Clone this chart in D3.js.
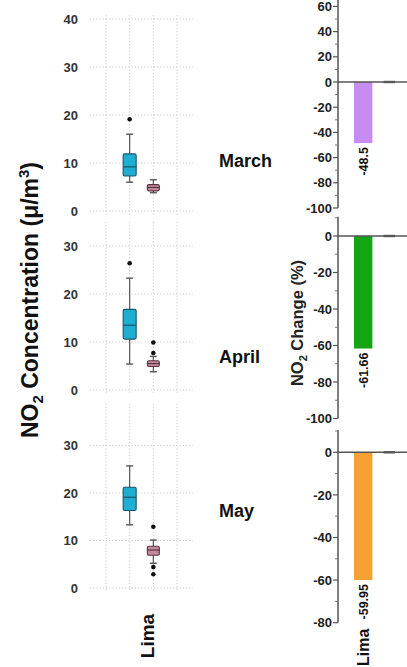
<!DOCTYPE html>
<html>
<head>
<meta charset="utf-8">
<script src="https://cdn.jsdelivr.net/npm/d3@7"></script>
<style>
  body { margin: 0; background: #fff; }
  svg { display: block; font-family: "Liberation Sans", Arial, sans-serif; }
</style>
</head>
<body>
<div id="viz"></div>
<script>
// data
var months = ["March", "April", "May"]
var series = ["Baseline", "2020"]          // blue box, pink box
var concTicks = [[0, 10, 20, 30, 40], [0, 10, 20, 30], [0, 10, 20, 30]]

// box stats: low whisker, q1, median, q3, high whisker, outliers
var marchBoxes = [
  { low: 6.0, q1: 7.3, med: 9.2, q3: 11.9, high: 16.0, out: [19.1] },
  { low: 3.8, q1: 4.2, med: 4.9, q3: 5.5, high: 6.5, out: [] }
]
var aprilBoxes = [
  { low: 5.4, q1: 10.6, med: 13.5, q3: 16.8, high: 23.3, out: [26.4] },
  { low: 3.8, q1: 4.9, med: 5.5, q3: 6.1, high: 7.0, out: [7.7, 9.9] }
]
var mayBoxes = [
  { low: 13.3, q1: 16.3, med: 19.1, q3: 21.2, high: 25.7, out: [] },
  { low: 5.2, q1: 6.9, med: 8.0, q3: 8.8, high: 10.1, out: [12.9, 4.4, 2.9] }
]
var allBoxes = [marchBoxes, aprilBoxes, mayBoxes]

var changeCities = ["Lima", "other"]
var limaChange = [-48.5, -61.66, -59.95]
var otherChange = [0, 0, 0]
var changeDomains = [[-100, 60], [-100, 10], [-80, 10]]
var barColors = ["#c78cf2", "#14a514", "#f6a233"]

// general variables
var w = 407
var h = 667
var font = "'Liberation Sans', Arial, sans-serif"

var svg = d3.select("#viz")
  .append("svg")
  .attr("width", w)
  .attr("height", h)

// ---------- left: box plots ----------
var leftPanels = [
  { y0: 211, ppu: 4.8, top: 40.8 },
  { y0: 390, ppu: 4.8, top: 35 },
  { y0: 588, ppu: 4.75, top: 38.8 }
]
var boxFill = ["#1eaed2", "#c48a9c"]
var boxStroke = ["#17566a", "#5a3242"]
var boxW = [13, 12]

// x: 4 grid slots, boxes sit on slots 1 and 2
var x = d3.scaleLinear().domain([0, 3]).range([106, 177])

leftPanels.forEach((p, i) => {
  var y = d3.scaleLinear().domain([0, p.top]).range([p.y0, p.y0 - p.top * p.ppu])
  var g = svg.append("g")

  // dotted grid
  g.selectAll(".vgrid").data(d3.range(4))
    .enter()
    .append("line")
    .attr("x1", d => x(d))
    .attr("x2", d => x(d))
    .attr("y1", y(p.top))
    .attr("y2", y(0) + 4)
    .attr("stroke", "#c8c8c8")
    .attr("stroke-dasharray", "1.2,2")
  g.selectAll(".hgrid").data(concTicks[i])
    .enter()
    .append("line")
    .attr("x1", 90)
    .attr("x2", 193)
    .attr("y1", d => y(d))
    .attr("y2", d => y(d))
    .attr("stroke", "#c8c8c8")
    .attr("stroke-dasharray", "1.2,2")

  g.selectAll(".tick").data(concTicks[i])
    .enter()
    .append("text")
    .attr("x", 78)
    .attr("y", d => y(d))
    .attr("dy", "0.36em")
    .attr("text-anchor", "end")
    .attr("font-size", 13)
    .attr("font-weight", "bold")
    .attr("fill", "#333")
    .text(d => d)

  allBoxes[i].forEach((b, j) => {
    var cx = x(j + 1)
    var bw = boxW[j]
    g.append("line")
      .attr("x1", cx).attr("x2", cx)
      .attr("y1", y(b.high)).attr("y2", y(b.low))
      .attr("stroke", "#555").attr("stroke-width", 1.2)
    ;[b.low, b.high].forEach(v => {
      g.append("line")
        .attr("x1", cx - 3.5).attr("x2", cx + 3.5)
        .attr("y1", y(v)).attr("y2", y(v))
        .attr("stroke", "#555").attr("stroke-width", 1.4)
    })
    g.append("rect")
      .attr("x", cx - bw / 2)
      .attr("y", y(b.q3))
      .attr("width", bw)
      .attr("height", y(b.q1) - y(b.q3))
      .attr("rx", 1.5)
      .attr("fill", boxFill[j])
      .attr("stroke", boxStroke[j])
      .attr("stroke-width", 1.1)
    g.append("line")
      .attr("x1", cx - bw / 2).attr("x2", cx + bw / 2)
      .attr("y1", y(b.med)).attr("y2", y(b.med))
      .attr("stroke", boxStroke[j]).attr("stroke-width", 1.2)
    g.selectAll(".out" + j).data(b.out)
      .enter()
      .append("circle")
      .attr("cx", cx)
      .attr("cy", d => y(d))
      .attr("r", 2.3)
      .attr("fill", "#111")
  })
})

// big y label
svg.append("text")
  .attr("transform", "translate(38,300) rotate(-90)")
  .attr("text-anchor", "middle")
  .attr("font-size", 23)
  .attr("font-weight", "bold")
  .attr("fill", "#111")
  .call(t => {
    t.append("tspan").text("NO")
    t.append("tspan").attr("font-size", 15).attr("dy", 5).text("2")
    t.append("tspan").attr("dy", -5).text(" Concentration (μ/m")
    t.append("tspan").attr("font-size", 15).attr("dy", -9).text("3")
    t.append("tspan").attr("dy", 9).text(")")
  })

svg.append("text")
  .attr("transform", "translate(154,636) rotate(-90)")
  .attr("text-anchor", "middle")
  .attr("font-size", 19)
  .attr("font-weight", "bold")
  .attr("fill", "#111")
  .text("Lima")

// month labels
var monthY = [161, 357, 511]
svg.selectAll(".month").data(months)
  .enter()
  .append("text")
  .attr("x", 219)
  .attr("y", (d, i) => monthY[i])
  .attr("dy", "0.36em")
  .attr("font-size", 18)
  .attr("font-weight", "bold")
  .attr("fill", "#111")
  .text(d => d)

// ---------- right: change bars ----------
var rightPanels = [
  { y0: 82, ppu: 1.26, top: 65 },
  { y0: 236, ppu: 1.825, top: 10.5 },
  { y0: 452.3, ppu: 2.13, top: 10.5 }
]
var axisX = 338
var xb = d3.scaleBand().domain(changeCities).range([338, 415]).paddingInner(0.31).paddingOuter(0.6)

rightPanels.forEach((p, i) => {
  var dom = changeDomains[i]
  var y = d3.scaleLinear().domain([dom[0], p.top]).range([p.y0 - (dom[0]) * p.ppu, p.y0 - p.top * p.ppu])
  var g = svg.append("g")

  var major = d3.range(dom[0], dom[1] + 1, 20)
  var minor = d3.range(dom[0] + 10, p.top, 20)

  // bar
  g.append("rect")
    .attr("x", xb("Lima"))
    .attr("y", y(0))
    .attr("width", xb.bandwidth())
    .attr("height", y(limaChange[i]) - y(0))
    .attr("fill", barColors[i])

  // zero line
  g.append("line")
    .attr("x1", axisX).attr("x2", w)
    .attr("y1", y(0)).attr("y2", y(0))
    .attr("stroke", "#555").attr("stroke-width", 1.5)

  // near-zero second bar
  g.append("rect")
    .attr("x", xb("other") + 3)
    .attr("y", y(Math.max(otherChange[i], 0)) - 1.2)
    .attr("width", xb.bandwidth() - 7)
    .attr("height", Math.abs(y(otherChange[i]) - y(0)) + 2.4)
    .attr("fill", "#555")

  // axis line + ticks
  g.append("line")
    .attr("x1", axisX).attr("x2", axisX)
    .attr("y1", y(p.top)).attr("y2", y(dom[0]))
    .attr("stroke", "#555").attr("stroke-width", 1.5)
  g.selectAll(".maj").data(major)
    .enter()
    .append("line")
    .attr("x1", axisX - 5).attr("x2", axisX)
    .attr("y1", d => y(d)).attr("y2", d => y(d))
    .attr("stroke", "#555").attr("stroke-width", 1.2)
  g.selectAll(".min").data(minor)
    .enter()
    .append("line")
    .attr("x1", axisX - 3).attr("x2", axisX)
    .attr("y1", d => y(d)).attr("y2", d => y(d))
    .attr("stroke", "#777").attr("stroke-width", 1)
  g.selectAll(".lab").data(major)
    .enter()
    .append("text")
    .attr("x", axisX - 6)
    .attr("y", d => y(d))
    .attr("dy", "0.36em")
    .attr("text-anchor", "end")
    .attr("font-size", 13)
    .attr("font-weight", "bold")
    .attr("fill", "#222")
    .text(d => d)

  // value label
  g.append("text")
    .attr("transform", "translate(" + (xb("Lima") + xb.bandwidth() / 2 + 4.5) + "," + (y(limaChange[i]) + 4) + ") rotate(-90)")
    .attr("text-anchor", "end")
    .attr("font-size", 12.5)
    .attr("font-weight", "bold")
    .attr("fill", "#111")
    .text(limaChange[i])
})

svg.append("text")
  .attr("transform", "translate(303,323) rotate(-90)")
  .attr("text-anchor", "middle")
  .attr("font-size", 16.5)
  .attr("font-weight", "bold")
  .attr("fill", "#222")
  .call(t => {
    t.append("tspan").text("NO")
    t.append("tspan").attr("font-size", 11).attr("dy", 4).text("2")
    t.append("tspan").attr("dy", -4).text(" Change (%)")
  })

svg.append("text")
  .attr("transform", "translate(" + (xb("Lima") + xb.bandwidth() / 2 + 6) + ",666) rotate(-90)")
  .attr("font-size", 16)
  .attr("font-weight", "bold")
  .attr("fill", "#111")
  .text("Lima")
</script>
</body>
</html>
